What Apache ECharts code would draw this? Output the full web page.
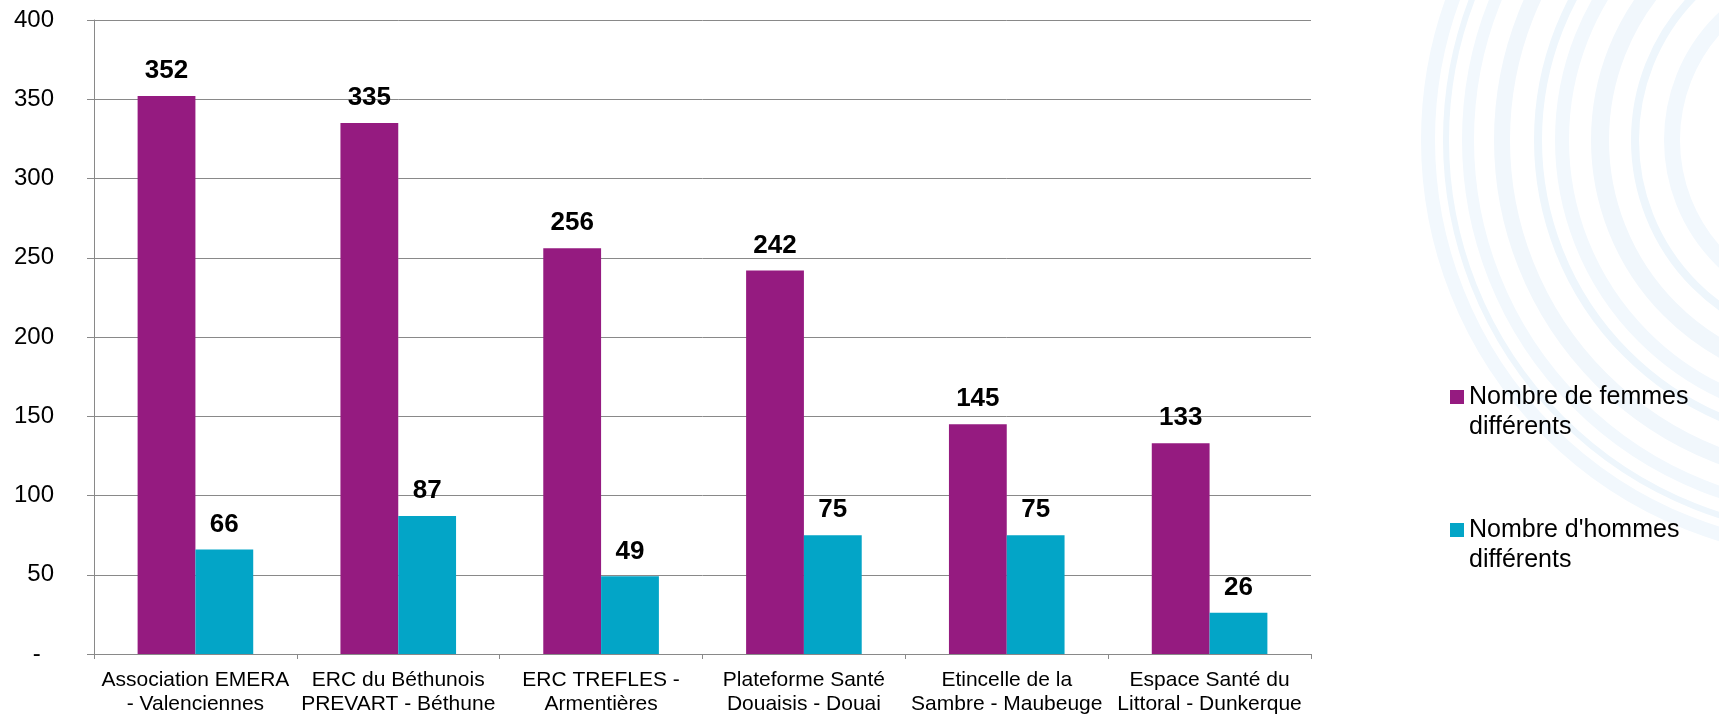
<!DOCTYPE html>
<html>
<head>
<meta charset="utf-8">
<script src="https://cdn.jsdelivr.net/npm/echarts@6/dist/echarts.min.js"></script>
<style>
html,body{margin:0;padding:0;background:#fff;}
#chart{width:1719px;height:716px;}
</style>
</head>
<body>
<div id="chart"></div>
<script>
const categories = [
  'Association EMERA\n- Valenciennes',
  'ERC du Béthunois\nPREVART - Béthune',
  'ERC TREFLES -\nArmentières',
  'Plateforme Santé\nDouaisis - Douai',
  'Etincelle de la\nSambre - Maubeuge',
  'Espace Santé du\nLittoral - Dunkerque'
];
const seriesNames = ['Nombre de femmes\ndifférents', "Nombre d'hommes\ndifférents"];
const femmes = [352, 335, 256, 242, 145, 133];
const hommes = [66, 87, 49, 75, 75, 26];
const yTicks = { min: 0, max: 400, interval: 50 };

const FONT = '"Liberation Sans", Arial, sans-serif';
const chart = echarts.init(document.getElementById('chart'), null, { renderer: 'canvas' });

// decorative background rings
const rings = [
  { r: 412, w: 14, c: '#f2f8fd' },
  { r: 394, w: 6, c: '#eef6fc' },
  { r: 372, w: 12, c: '#f2f8fd' },
  { r: 338, w: 16, c: '#f1f7fc' },
  { r: 302, w: 8, c: '#eef6fc' },
  { r: 278, w: 14, c: '#f2f8fd' },
  { r: 240, w: 18, c: '#f1f7fc' },
  { r: 205, w: 8, c: '#eef6fc' },
  { r: 168, w: 16, c: '#f2f8fd' }
];
const graphics = rings.map(g => ({
  type: 'circle',
  z: -10,
  silent: true,
  shape: { cx: 1840, cy: 140, r: g.r },
  style: { fill: 'none', stroke: g.c, lineWidth: g.w }
}));

const labelStyle = {
  show: true,
  position: 'top',
  distance: 12,
  color: '#000',
  fontFamily: FONT,
  fontWeight: 'bold',
  fontSize: 26
};

chart.setOption({
  backgroundColor: '#fff',
  animation: false,
  graphic: graphics,
  grid: { left: 94, right: 408, top: 20, bottom: 62, containLabel: false },
  legend: {
    orient: 'vertical',
    left: 1450,
    top: 352,
    padding: 0,
    itemWidth: 14,
    itemHeight: 14,
    itemGap: 43,
    icon: 'rect',
    selectedMode: false,
    formatter: name => '\u00a0\n' + name,
    textStyle: {
      color: '#000',
      fontFamily: FONT,
      fontSize: 25,
      lineHeight: 30
    },
    data: seriesNames
  },
  xAxis: {
    type: 'category',
    data: categories,
    axisLine: { show: true, lineStyle: { color: '#898989', width: 1 } },
    axisTick: { show: true, length: 5, alignWithLabel: false, lineStyle: { color: '#898989' } },
    axisLabel: {
      color: '#000',
      fontFamily: FONT,
      fontSize: 21,
      lineHeight: 24,
      margin: 14,
      interval: 0
    }
  },
  yAxis: {
    type: 'value',
    min: yTicks.min,
    max: yTicks.max,
    interval: yTicks.interval,
    axisLine: { show: true, lineStyle: { color: '#898989', width: 1 } },
    axisTick: { show: true, length: 7, inside: false, lineStyle: { color: '#898989' } },
    splitLine: { show: true, lineStyle: { color: '#898989', width: 1 } },
    axisLabel: {
      color: '#000',
      fontFamily: FONT,
      fontSize: 24,
      margin: 40,
      formatter: v => (v === 0 ? '-\u2007' : String(v))
    }
  },
  series: [
    {
      name: seriesNames[0],
      type: 'bar',
      data: femmes,
      barGap: '0%',
      barCategoryGap: '43%',
      itemStyle: { color: '#951B80' },
      label: labelStyle
    },
    {
      name: seriesNames[1],
      type: 'bar',
      data: hommes,
      barGap: '0%',
      barCategoryGap: '43%',
      itemStyle: { color: '#03A5C7' },
      label: labelStyle
    }
  ]
});
</script>
</body>
</html>
